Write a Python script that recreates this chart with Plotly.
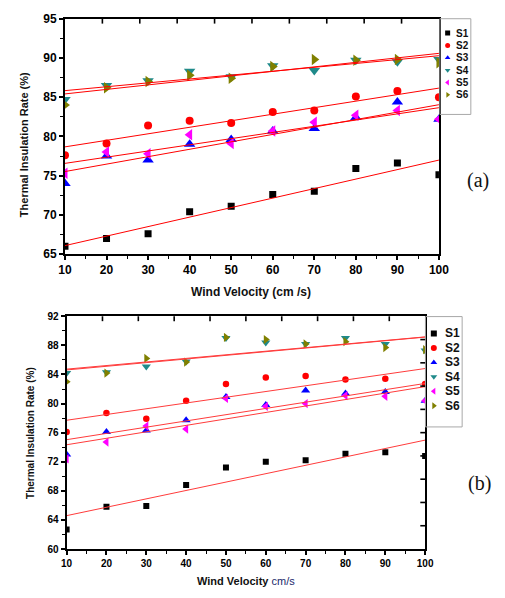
import numpy as np
import plotly.graph_objects as go

W, H = 505, 598

velocity = [10, 20, 30, 40, 50, 60, 70, 80, 90, 100]
names = ["S1", "S2", "S3", "S4", "S5", "S6"]

# panel (a)
a_S1 = [66.0, 67.0, 67.6, 70.4, 71.1, 72.6, 73.0, 75.9, 76.6, 75.1]
a_S2 = [77.6, 79.1, 81.4, 82.0, 81.7, 83.1, 83.3, 85.1, 85.8, 85.0]
a_S3 = [74.0, 77.5, 77.0, 79.0, 79.6, 80.7, 81.0, 82.4, 84.4, 82.2]
a_S4 = [84.7, 86.5, 87.1, 88.3, 87.6, 89.0, 88.4, 89.7, 89.5, 89.8]
a_S5 = [75.3, 78.0, 77.8, 80.2, 79.1, 80.7, 81.8, 82.7, 83.3, 82.2]
a_S6 = [84.0, 86.2, 87.0, 87.8, 87.4, 88.9, 89.8, 89.7, 89.8, 89.4]

# panel (b)
b_S1 = [62.7, 65.8, 65.9, 68.8, 71.2, 72.0, 72.2, 73.1, 73.3, 72.8]
b_S2 = [76.1, 78.7, 77.9, 80.4, 82.7, 83.6, 83.8, 83.3, 83.4, 82.7]
b_S3 = [73.0, 76.1, 76.3, 77.7, 80.9, 79.8, 81.8, 81.4, 81.6, 80.4]
b_S4 = [84.2, 84.3, 85.1, 85.8, 89.0, 88.4, 88.2, 89.0, 88.2, 87.3]
b_S5 = [72.4, 74.7, 76.9, 76.5, 80.7, 79.6, 80.0, 81.1, 81.0, 80.4]
b_S6 = [83.0, 84.2, 86.2, 85.7, 89.1, 88.8, 88.2, 88.5, 87.7, 87.4]

colors = ["#000000", "#ff0000", "#0000ff", "#1f8a8a", "#ff00ff", "#808000"]
symbols = ["square", "circle", "triangle-up", "triangle-down", "triangle-left", "triangle-right"]
sizes_a = [7, 8, 10, 10, 10, 10]
sizes_b = [6, 6.5, 8, 8, 8, 8]

a_tick_vals = list(range(65, 96, 5))
b_tick_vals = list(range(60, 93, 4))
x_tick_vals = list(range(10, 101, 10))

FONT = "Arial"


def px_x(p):
    return p / W


def px_y(p):
    return 1 - p / H


def bold(vals):
    return ["<b>%d</b>" % v for v in vals]


fig = go.Figure()

panels = [
    ([a_S1, a_S2, a_S3, a_S4, a_S5, a_S6], "x", "y", sizes_a, "#ff0000"),
    ([b_S1, b_S2, b_S3, b_S4, b_S5, b_S6], "x2", "y2", sizes_b, "#ff3b3b"),
]

for data, xa, ya, sizes, lcol in panels:
    for i, ys in enumerate(data):
        fig.add_trace(go.Scatter(
            x=velocity, y=ys, mode="markers", xaxis=xa, yaxis=ya,
            marker=dict(symbol=symbols[i], color=colors[i], size=sizes[i], line=dict(width=0)),
            showlegend=False, hoverinfo="skip"))
    for i, ys in enumerate(data):
        k, b = np.polyfit(velocity, ys, 1)
        xs = np.array([velocity[0], velocity[-1]], dtype=float)
        fig.add_trace(go.Scatter(
            x=xs, y=k * xs + b, mode="lines", xaxis=xa, yaxis=ya,
            line=dict(color=lcol, width=1), showlegend=False, hoverinfo="skip"))

# custom legends on hidden axes
legend_specs = [
    ("x5", "y5", (448, 480, 12, 110), 26.7, 12.65, 456, 463, 5, 10),
    ("x6", "y6", (433, 471, 317, 430), 334.3, 14.8, 441.7, 451, 6, 12),
]
for xa, ya, box, y0, step, mx, tx, ms, fs in legend_specs:
    for i, n in enumerate(names):
        fig.add_trace(go.Scatter(
            x=[mx], y=[y0 + i * step], mode="markers", xaxis=xa, yaxis=ya,
            marker=dict(symbol=symbols[i], color=colors[i], size=ms, line=dict(width=0)),
            showlegend=False, hoverinfo="skip"))
        fig.add_annotation(x=tx, y=y0 + i * step, xref=xa, yref=ya, text="<b>%s</b>" % n,
                           showarrow=False, xanchor="left", yanchor="middle",
                           font=dict(family=FONT, size=fs, color="#111"))
    fig.add_shape(type="rect", xref="paper", yref="paper",
                  x0=px_x(box[0]), x1=px_x(box[1]), y0=px_y(box[3]), y1=px_y(box[2]),
                  line=dict(color="#a8a8a8", width=1))

tickfont_a = dict(family=FONT, size=12, color="black")
tickfont_b = dict(family=FONT, size=10, color="black")

dom_ax = [px_x(60), px_x(447)]
dom_ay = [px_y(253), px_y(12)]
dom_bx = [px_x(61.7), px_x(432.7)]
dom_by = [px_y(555), px_y(316.7)]

# decorative inside ticks of the opposite (top / right) axes, 10 equal divisions
n_div = 10
for i in range(1, n_div):
    f = i / n_div
    # top of (a)
    fig.add_shape(type="line", xref="x domain", yref="y domain", x0=f, x1=f, y0=1, y1=1 - 5 / 241,
                  line=dict(color="black", width=1.6))
    # top of (b)
    fig.add_shape(type="line", xref="x2 domain", yref="y2 domain", x0=f, x1=f, y0=1, y1=1 - 5 / 238,
                  line=dict(color="black", width=1.6))
    # right of (b)
    fig.add_shape(type="line", xref="x2 domain", yref="y2 domain", x0=1, x1=1 - 5 / 371, y0=f, y1=f,
                  line=dict(color="black", width=1.6))

common = dict(showgrid=False, zeroline=False, showline=True, linecolor="black",
              ticks="outside", tickcolor="black", tickwidth=1.5, mirror=True)

fig.update_layout(
    width=W, height=H, margin=dict(l=0, r=0, t=0, b=0),
    paper_bgcolor="white", plot_bgcolor="white", showlegend=False,
    xaxis=dict(domain=dom_ax, anchor="y", range=[10, 100], tickvals=x_tick_vals,
               ticktext=bold(x_tick_vals), ticklen=4, linewidth=2, tickfont=tickfont_a,
               minor=dict(dtick=5, tick0=0, ticks="outside", ticklen=2.5, tickcolor="black", tickwidth=1),
               **common),
    yaxis=dict(domain=dom_ay, anchor="x", range=[65, 95], tickvals=a_tick_vals,
               ticktext=bold(a_tick_vals), ticklen=4, linewidth=2, tickfont=tickfont_a,
               minor=dict(dtick=2.5, tick0=0, ticks="outside", ticklen=2.5, tickcolor="black", tickwidth=1),
               **common),
    xaxis2=dict(domain=dom_bx, anchor="y2", range=[10, 100], tickvals=x_tick_vals,
                ticktext=bold(x_tick_vals), ticklen=4, linewidth=2, tickfont=tickfont_b,
                minor=dict(dtick=5, tick0=0, ticks="outside", ticklen=2.5, tickcolor="black", tickwidth=1),
                **common),
    yaxis2=dict(domain=dom_by, anchor="x2", range=[60, 92], tickvals=b_tick_vals,
                ticktext=bold(b_tick_vals), ticklen=4, linewidth=2, tickfont=tickfont_b,
                minor=dict(dtick=2, tick0=0, ticks="outside", ticklen=2.5, tickcolor="black", tickwidth=1),
                **common),
    xaxis5=dict(domain=[px_x(448), px_x(480)], anchor="y5", range=[448, 480], visible=False),
    yaxis5=dict(domain=[px_y(110), px_y(12)], anchor="x5", range=[110, 12], visible=False),
    xaxis6=dict(domain=[px_x(433), px_x(471)], anchor="y6", range=[433, 471], visible=False),
    yaxis6=dict(domain=[px_y(430), px_y(317)], anchor="x6", range=[430, 317], visible=False),
)


def label(x, y, text, size, angle=0, family=FONT):
    fig.add_annotation(x=px_x(x), y=px_y(y), xref="paper", yref="paper", text=text,
                       showarrow=False, textangle=angle, xanchor="center", yanchor="middle",
                       font=dict(family=family, size=size, color="#111"))


label(253, 292, "<b>Wind Velocity (cm /s)</b>", 12)
label(17, 141, "<b>Thermal Insulation Rate (%)</b>", 11, -90)
label(247, 588, "<b>Wind Velocity</b> <span style='color:#1a2a6c'>cm/s</span>", 11)
label(25, 436, "<b>Thermal Insulation Rate (%)</b>", 10, -90)
label(487, 178, "(a)", 20, family="Liberation Serif")
label(489, 488, "(b)", 20, family="Liberation Serif")

fig.write_html("out.html")
